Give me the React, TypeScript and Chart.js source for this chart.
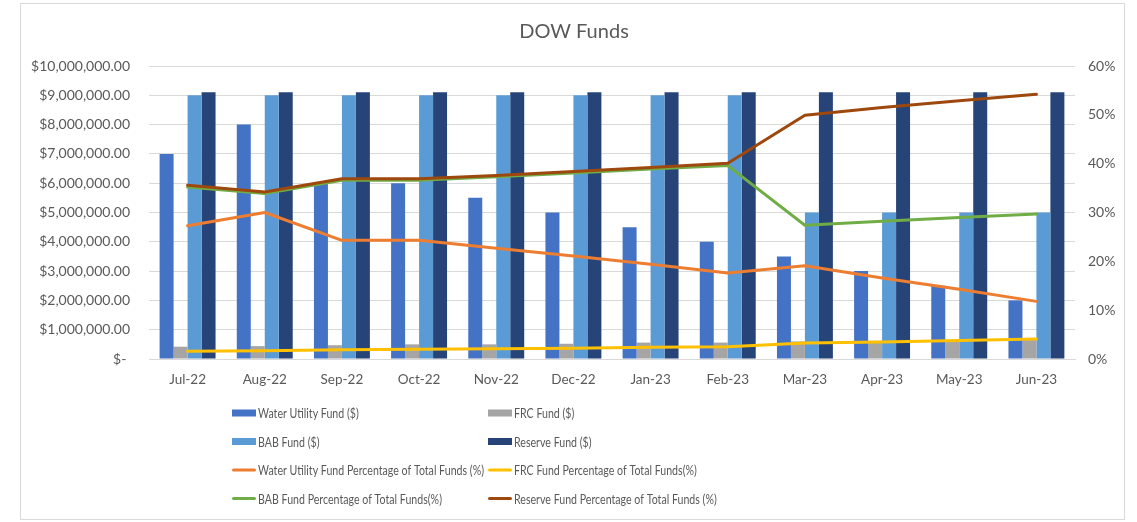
import React, { useEffect, useRef } from "react";
import { Chart, registerables } from "chart.js";

Chart.register(...registerables);

const months = ["Jul-22", "Aug-22", "Sep-22", "Oct-22", "Nov-22", "Dec-22", "Jan-23", "Feb-23", "Mar-23", "Apr-23", "May-23", "Jun-23"];

const waterUtilityFund = [7000000, 8000000, 6000000, 6000000, 5500000, 5000000, 4500000, 4000000, 3500000, 3000000, 2500000, 2000000];
const frcFund = [420000, 440000, 470000, 500000, 500000, 520000, 560000, 560000, 600000, 620000, 650000, 700000];
const babFund = [9000000, 9000000, 9000000, 9000000, 9000000, 9000000, 9000000, 9000000, 5000000, 5000000, 5000000, 5000000];
const reserveFund = [9100000, 9100000, 9100000, 9100000, 9100000, 9100000, 9100000, 9100000, 9100000, 9100000, 9100000, 9100000];

const waterPct = [27.3, 30.0, 24.3, 24.3, 22.7, 21.1, 19.4, 17.6, 19.1, 16.6, 14.3, 11.8];
const frcPct = [1.6, 1.7, 1.9, 2.0, 2.1, 2.2, 2.4, 2.5, 3.3, 3.5, 3.8, 4.1];
const babPct = [35.2, 33.9, 36.6, 36.6, 37.3, 38.1, 38.9, 39.6, 27.4, 28.2, 29.0, 29.7];
const reservePct = [35.6, 34.2, 36.9, 36.9, 37.6, 38.4, 39.2, 40.1, 49.9, 51.5, 52.9, 54.2];

const leftTicksMax = 10000000;
const leftStep = 1000000;
const rightTicksMax = 60;
const rightStep = 10;

const chartTitle = "DOW Funds";
const FONT = "Lato, 'Open Sans', sans-serif";
const TEXT = "#595959";

const legendPlugin = {
  id: "excelLegend",
  beforeDraw(chart: any) {
    const ctx = chart.ctx;
    ctx.save();
    ctx.fillStyle = "#ffffff";
    ctx.fillRect(0, 0, chart.width, chart.height);
    ctx.strokeStyle = "#d9d9d9";
    ctx.lineWidth = 1;
    ctx.strokeRect(20.5, 3.5, 1104, 516);
    ctx.restore();
  },
  afterDraw(chart: any) {
    const ctx = chart.ctx;
    ctx.save();
    // title
    ctx.fillStyle = TEXT;
    ctx.font = `20px ${FONT}`;
    ctx.textAlign = "center";
    ctx.textBaseline = "middle";
    ctx.fillText(chartTitle, 574, 32);
    // legend
    const colX = [232, 488];
    const rowY = [413, 441.5, 470, 498.5];
    ctx.font = `14px ${FONT}`;
    ctx.textAlign = "left";
    const labels: string[] = chart.data.datasets.map((d: any) => d.label);
    const longest = Math.max(...labels.map((l) => ctx.measureText(l).width));
    const squeeze = 226 / longest;
    chart.data.datasets.forEach((ds: any, i: number) => {
      const x = colX[i % 2];
      const y = rowY[Math.floor(i / 2)];
      if (ds.type === "bar") {
        ctx.fillStyle = ds.backgroundColor;
        ctx.fillRect(x, y - 3.5, 24, 7);
      } else {
        ctx.strokeStyle = ds.borderColor;
        ctx.lineWidth = 3;
        ctx.lineCap = "round";
        ctx.beginPath();
        ctx.moveTo(x + 1.5, y);
        ctx.lineTo(x + 22.5, y);
        ctx.stroke();
      }
      ctx.fillStyle = TEXT;
      const w = ctx.measureText(ds.label).width * squeeze;
      ctx.fillText(ds.label, x + 26, y + 0.5, w);
    });
    ctx.restore();
  },
};

function fmtMoney(v: number) {
  if (v === 0) return "$- ";
  return "$" + v.toLocaleString("en-US", { minimumFractionDigits: 2, maximumFractionDigits: 2 });
}

export default function App() {
  const ref = useRef<HTMLCanvasElement | null>(null);
  useEffect(() => {
    if (!ref.current) return;
    const barCommon = { type: "bar" as const, yAxisID: "y", order: 10, barPercentage: 1, categoryPercentage: 0.725, borderWidth: 0 };
    const lineCommon = { type: "line" as const, yAxisID: "y1", pointRadius: 0, borderWidth: 3, tension: 0, borderJoinStyle: "round" as const, borderCapStyle: "round" as const, fill: false };
    const chart = new Chart(ref.current, {
      data: {
        labels: months,
        datasets: [
          { ...barCommon, label: "Water Utility Fund ($)", data: waterUtilityFund, backgroundColor: "#4472C4" },
          { ...barCommon, label: "FRC Fund ($)", data: frcFund, backgroundColor: "#A5A5A5" },
          { ...barCommon, label: "BAB Fund ($)", data: babFund, backgroundColor: "#5B9BD5" },
          { ...barCommon, label: "Reserve Fund ($)", data: reserveFund, backgroundColor: "#264478" },
          { ...lineCommon, label: "Water Utility Fund Percentage of Total Funds (%)", data: waterPct, borderColor: "#ED7D31", backgroundColor: "#ED7D31", order: 4 },
          { ...lineCommon, label: "FRC Fund Percentage of Total Funds(%)", data: frcPct, borderColor: "#FFC000", backgroundColor: "#FFC000", order: 3 },
          { ...lineCommon, label: "BAB Fund Percentage of Total Funds(%)", data: babPct, borderColor: "#70AD47", backgroundColor: "#70AD47", order: 2 },
          { ...lineCommon, label: "Reserve Fund Percentage of Total Funds (%)", data: reservePct, borderColor: "#9E480E", backgroundColor: "#9E480E", order: 1 },
        ] as any,
      },
      options: {
        responsive: false,
        animation: false,
        devicePixelRatio: 1,
        layout: { padding: { left: 20, right: 12, top: 66, bottom: 133 } },
        plugins: { legend: { display: false }, title: { display: false }, tooltip: { enabled: false } },
        scales: {
          x: {
            grid: { display: false, drawTicks: false },
            border: { display: true, color: "#d9d9d9", width: 1 },
            ticks: { color: TEXT, font: { family: FONT, size: 13.5 }, padding: 13, maxRotation: 0, autoSkip: false },
            afterFit: (s: any) => { s.height = 30; },
          },
          y: {
            position: "left",
            min: 0,
            max: leftTicksMax,
            grid: { color: "#d9d9d9", lineWidth: 1, drawTicks: false },
            border: { display: false },
            ticks: { stepSize: leftStep, color: TEXT, font: { family: FONT, size: 14 }, padding: 19, callback: (v: any) => fmtMoney(Number(v)) },
            afterFit: (s: any) => { s.width = 129; },
          },
          y1: {
            position: "right",
            min: 0,
            max: rightTicksMax,
            grid: { display: false, drawTicks: false },
            border: { display: false },
            ticks: { stepSize: rightStep, color: TEXT, font: { family: FONT, size: 14 }, padding: 13, callback: (v: any) => `${v}%` },
            afterFit: (s: any) => { s.width = 50; },
          },
        },
      } as any,
      plugins: [legendPlugin],
    });
    return () => chart.destroy();
  }, []);
  return (
    <div style={{ position: "fixed", left: 0, top: 0, width: 1137, height: 522, background: "#fff" }}>
      <canvas ref={ref} width={1137} height={522} style={{ display: "block", width: 1137, height: 522 }} />
    </div>
  );
}
